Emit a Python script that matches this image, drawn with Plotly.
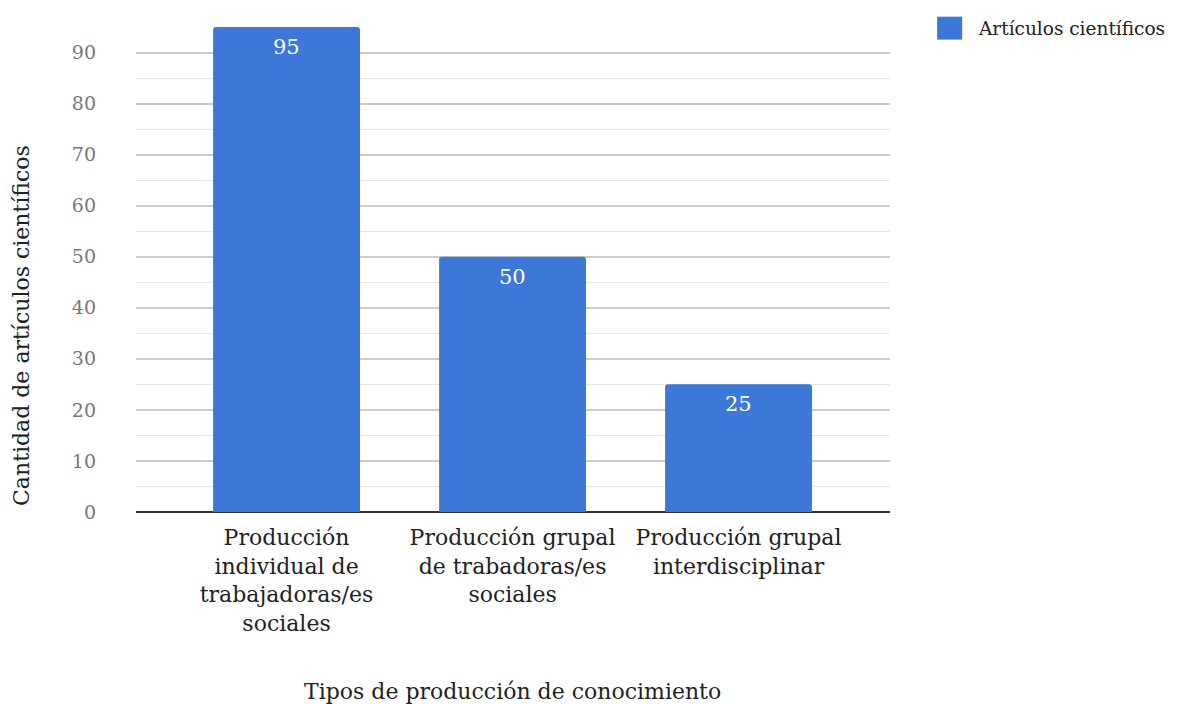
import plotly.graph_objects as go

categories = [
    "Producción<br>individual de<br>trabajadoras/es<br>sociales",
    "Producción grupal<br>de trabadoras/es<br>sociales",
    "Producción grupal<br>interdisciplinar",
]
values = [95, 50, 25]
series_name = "Artículos científicos"
x_title = "Tipos de producción de conocimiento"
y_title = "Cantidad de artículos científicos"
y_ticks = [0, 10, 20, 30, 40, 50, 60, 70, 80, 90]

FONT = "DejaVu Serif"
BAR_COLOR = "#3c78d8"
x_pos = list(range(len(categories)))

fig = go.Figure()
fig.add_trace(go.Bar(
    x=x_pos,
    y=values,
    name=series_name,
    marker=dict(color=BAR_COLOR, cornerradius=3, line=dict(width=0)),
    width=0.65,
    showlegend=False,
))

# value labels inside the top of each bar
for xi, v in zip(x_pos, values):
    fig.add_annotation(x=xi, y=v, xref="x", yref="y", text=str(v),
                       showarrow=False, yshift=-20, xanchor="center", yanchor="middle",
                       font=dict(family=FONT, size=21, color="white"))

# legend drawn as a square + text
fig.add_shape(type="rect", xref="paper", yref="paper",
              x0=1.0625, x1=1.0957, y0=1.0213, y1=0.9740,
              fillcolor=BAR_COLOR, line=dict(width=0))
fig.add_annotation(text=series_name, xref="paper", yref="paper",
                   x=1.1135, y=0.996, xanchor="left", yanchor="middle",
                   showarrow=False, font=dict(family=FONT, size=18.5, color="#222"))

# axis titles
fig.add_annotation(text=x_title, xref="paper", yref="paper",
                   x=0.4987, y=-0.371, xanchor="center", yanchor="middle",
                   showarrow=False, font=dict(family=FONT, size=22, color="#222"))
fig.add_annotation(text=y_title, xref="paper", yref="paper", textangle=-90,
                   x=-0.1512, y=0.3856, xanchor="center", yanchor="middle",
                   showarrow=False, font=dict(family=FONT, size=22, color="#222"))

fig.update_layout(
    width=1180, height=704,
    margin=dict(l=128, r=298, t=19, b=200),
    paper_bgcolor="white", plot_bgcolor="white",
    font=dict(family=FONT, size=20, color="#222"),
    showlegend=False,
    xaxis=dict(
        tickmode="array", tickvals=x_pos, ticktext=categories,
        range=[-0.666, 2.67],
        showgrid=False, zeroline=False, showline=False,
        tickfont=dict(family=FONT, size=22, color="#222"),
        ticklabelstandoff=10,
    ),
    yaxis=dict(
        range=[0, 95],
        tickmode="array", tickvals=y_ticks,
        showgrid=True, gridcolor="#cccccc", gridwidth=1.5,
        minor=dict(dtick=5, showgrid=True, gridcolor="#e6e6e6", gridwidth=1),
        zeroline=True, zerolinecolor="#333333", zerolinewidth=2,
        showline=False,
        tickfont=dict(family=FONT, size=19, color="#777777"),
        ticklabelstandoff=39,
    ),
)

fig.write_html("out.html")
